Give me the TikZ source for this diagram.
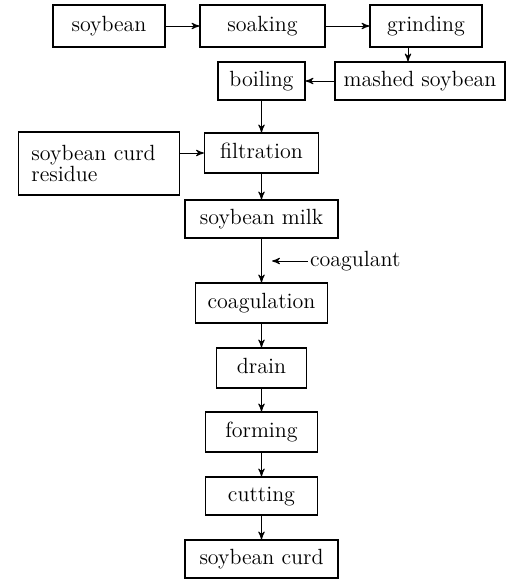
\documentclass[tikz,border=0pt]{standalone}
\usetikzlibrary{arrows,positioning}

\begin{document}
\begin{tikzpicture}[x=0.5pt,y=-0.5pt,>=stealth',shorten >=0.3pt,line width=0.5pt,
                    box/.style={rectangle,draw,line width=0.6pt,outer sep=0pt,font=\fontsize{11}{10.5}\selectfont,inner sep=2pt},
                    proc node/.style={box,text height=8pt,text depth=2.5pt}]
  \useasboundingbox (0,0) rectangle (515,580);
  \node[proc node,minimum width=56pt,minimum height=21pt] (soybean) at (109,26) {soybean};
  \node[proc node,minimum width=62.5pt,minimum height=21pt] (soaking) [right=17.5pt of soybean] {soaking};
  \node[proc node,minimum width=56pt,minimum height=21pt] (grinding) [right=22.5pt of soaking] {grinding};
  \node[proc node,minimum width=85pt,minimum height=19pt] (mashed) [below=7.5pt of grinding,xshift=-3pt] {mashed soybean};
  \node[proc node,minimum width=43.5pt,minimum height=19pt] (boiling) [left=15pt of mashed] {boiling};
  \node[proc node,minimum width=57pt,minimum height=20pt] (filtration) [below=16.5pt of boiling] {filtration};
  \node[box,minimum width=80.5pt,minimum height=31.5pt,inner xsep=6.5pt,text width=67.5pt,align=left] (residue)
       [left=12.5pt of filtration,yshift=-5.25pt] {soybean curd\\residue};
  \node[proc node,minimum width=76.5pt,minimum height=19pt] (milk) [below=13.5pt of filtration] {soybean milk};
  \node[proc node,minimum width=66pt,minimum height=20pt] (coagulation) [below=22.5pt of milk] {coagulation};
  \node[proc node,minimum width=45pt,minimum height=20pt] (drain) [below=12.5pt of coagulation] {drain};
  \node[proc node,minimum width=56pt,minimum height=20pt] (forming) [below=12pt of drain] {forming};
  \node[proc node,minimum width=56pt,minimum height=19pt] (cutting) [below=12.5pt of forming] {cutting};
  \node[proc node,minimum width=76.5pt,minimum height=19pt] (curd) [below=12.5pt of cutting] {soybean curd};
  \node[anchor=west,inner sep=1pt,font=\fontsize{11}{13}\selectfont] (coagulant)
       at ([xshift=23pt,yshift=-11.5pt]milk.south) {coagulant};
  \coordinate (feed) at ([xshift=5pt]milk.south |- coagulant.west);
  \path[->]
    (soybean) edge (soaking)
    (soaking) edge (grinding)
    ([xshift=-9pt]grinding.south) edge ([xshift=-9pt]grinding.south |- mashed.north)
    (mashed) edge (boiling)
    (boiling) edge (filtration)
    (residue.east |- filtration.west) edge (filtration.west)
    (filtration) edge (milk)
    (milk) edge (coagulation)
    (coagulant.west) edge (feed)
    (coagulation) edge (drain)
    (drain) edge (forming)
    (forming) edge (cutting)
    (cutting) edge (curd);
\end{tikzpicture}
\end{document}
